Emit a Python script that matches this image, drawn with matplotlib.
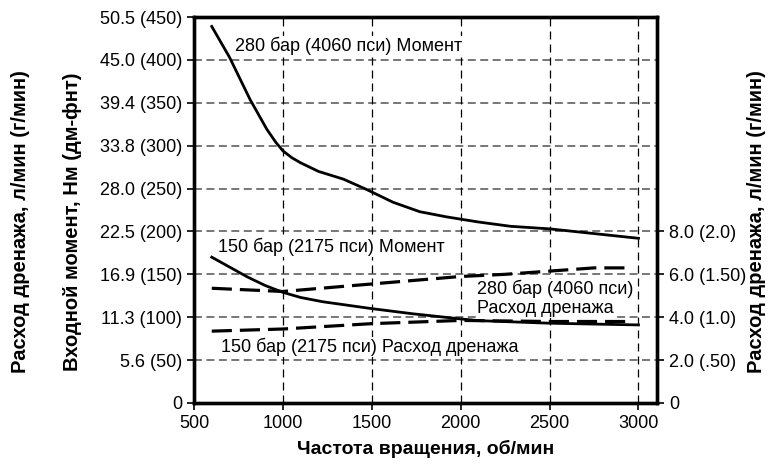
import matplotlib
matplotlib.use("Agg")
import matplotlib.pyplot as plt

plt.rcParams['font.family'] = ['Liberation Sans', 'DejaVu Sans']

# 280 bar torque, Nm-scale units of left axis (lb-ft values shown in brackets)
rpm_t280 = [600, 700, 815, 910, 960, 1000, 1050, 1100, 1200, 1340, 1470, 1620, 1770, 1920, 2100, 2280, 2500, 3000]
torque_280 = [439, 403, 354, 319, 304, 294, 286, 280, 270, 261, 249, 234, 223, 217, 211, 206, 203, 192]

# 150 bar torque
rpm_t150 = [600, 800, 900, 1000, 1100, 1225, 1500, 1730, 2000, 2100, 2500, 3000]
torque_150 = [170, 147, 137, 129, 123, 118, 110, 104, 98, 96, 93, 91]

# drain flow, l/min (right axis)
rpm_d280 = [600, 1000, 1500, 2000, 2250, 2500, 2750, 2950]
drain_280 = [5.35, 5.2, 5.55, 5.9, 6.0, 6.15, 6.3, 6.3]

rpm_d150 = [600, 1000, 1500, 2000, 2500, 2950]
drain_150 = [3.35, 3.45, 3.7, 3.85, 3.8, 3.8]

x_ticks = [500, 1000, 1500, 2000, 2500, 3000]
left_ticks = [0, 50, 100, 150, 200, 250, 300, 350, 400, 450]
left_labels = ['0', '5.6 (50)', '11.3 (100)', '16.9 (150)', '22.5 (200)', '28.0 (250)',
               '33.8 (300)', '39.4 (350)', '45.0 (400)', '50.5 (450)']
right_ticks = [0, 2, 4, 6, 8]
right_labels = ['0', '2.0 (.50)', '4.0 (1.0)', '6.0 (1.50)', '8.0 (2.0)']

fig = plt.figure(figsize=(7.75, 4.7), dpi=100)
ax = fig.add_axes([0.2503, 0.1426, 0.5974, 0.8212])
ax2 = ax.twinx()

ax.set_xlim(500, 3104)
ax.set_ylim(0, 450)
ax2.set_ylim(0, 18)

# grid
for y in left_ticks[1:-1]:
    ax.axhline(y, color='#777777', lw=1.4, dashes=(4.1, 2.3), zorder=1)
for x in x_ticks[1:]:
    ax.axvline(x, color='black', lw=0.9, dashes=(6.4, 4), zorder=1)

ax.plot(rpm_t280, torque_280, color='black', lw=2, zorder=3)
ax.plot(rpm_t150, torque_150, color='black', lw=2, zorder=3)
ax2.plot(rpm_d280, drain_280, color='black', lw=2.3, dashes=(6.3, 2.5), zorder=3)
ax2.plot(rpm_d150, drain_150, color='black', lw=2.3, dashes=(6.3, 2.5), zorder=3)

fs = 13
bb = dict(facecolor='white', edgecolor='none', pad=0.5)
ax2.text(730, 416 / 25, '280 бар (4060 пси) Момент', fontsize=fs, va='center', bbox=bb, zorder=5)
ax2.text(635, 182 / 25, '150 бар (2175 пси) Момент', fontsize=fs, va='center', bbox=bb, zorder=5)
ax2.text(2090, 133 / 25, '280 бар (4060 пси)', fontsize=fs, va='center', bbox=bb, zorder=5)
ax2.text(2090, 110 / 25, 'Расход дренажа', fontsize=fs, va='center', bbox=bb, zorder=5)
ax2.text(652, 65 / 25, '150 бар (2175 пси) Расход дренажа', fontsize=fs, va='center', bbox=bb, zorder=5)

ax.set_xticks(x_ticks)
ax.set_yticks(left_ticks)
ax.set_yticklabels(left_labels)
ax2.set_yticks(right_ticks)
ax2.set_yticklabels(right_labels)

for a in (ax, ax2):
    a.tick_params(labelsize=fs, width=1.2, length=5, direction='out')
    for s in a.spines.values():
        s.set_linewidth(2.4)

lab = 14.5
ax.set_xlabel('Частота вращения, об/мин', fontsize=14, fontweight='bold', labelpad=6)
fig.text(0.976, 0.528, 'Расход дренажа, л/мин (г/мин)', rotation=90, fontsize=lab,
         fontweight='bold', ha='center', va='center')
fig.text(0.094, 0.528, 'Входной момент, Нм (дм-фнт)', rotation=90, fontsize=lab,
         fontweight='bold', ha='center', va='center')
fig.text(0.026, 0.528, 'Расход дренажа, л/мин (г/мин)', rotation=90, fontsize=lab,
         fontweight='bold', ha='center', va='center')

fig.savefig('out.png', dpi=100)
